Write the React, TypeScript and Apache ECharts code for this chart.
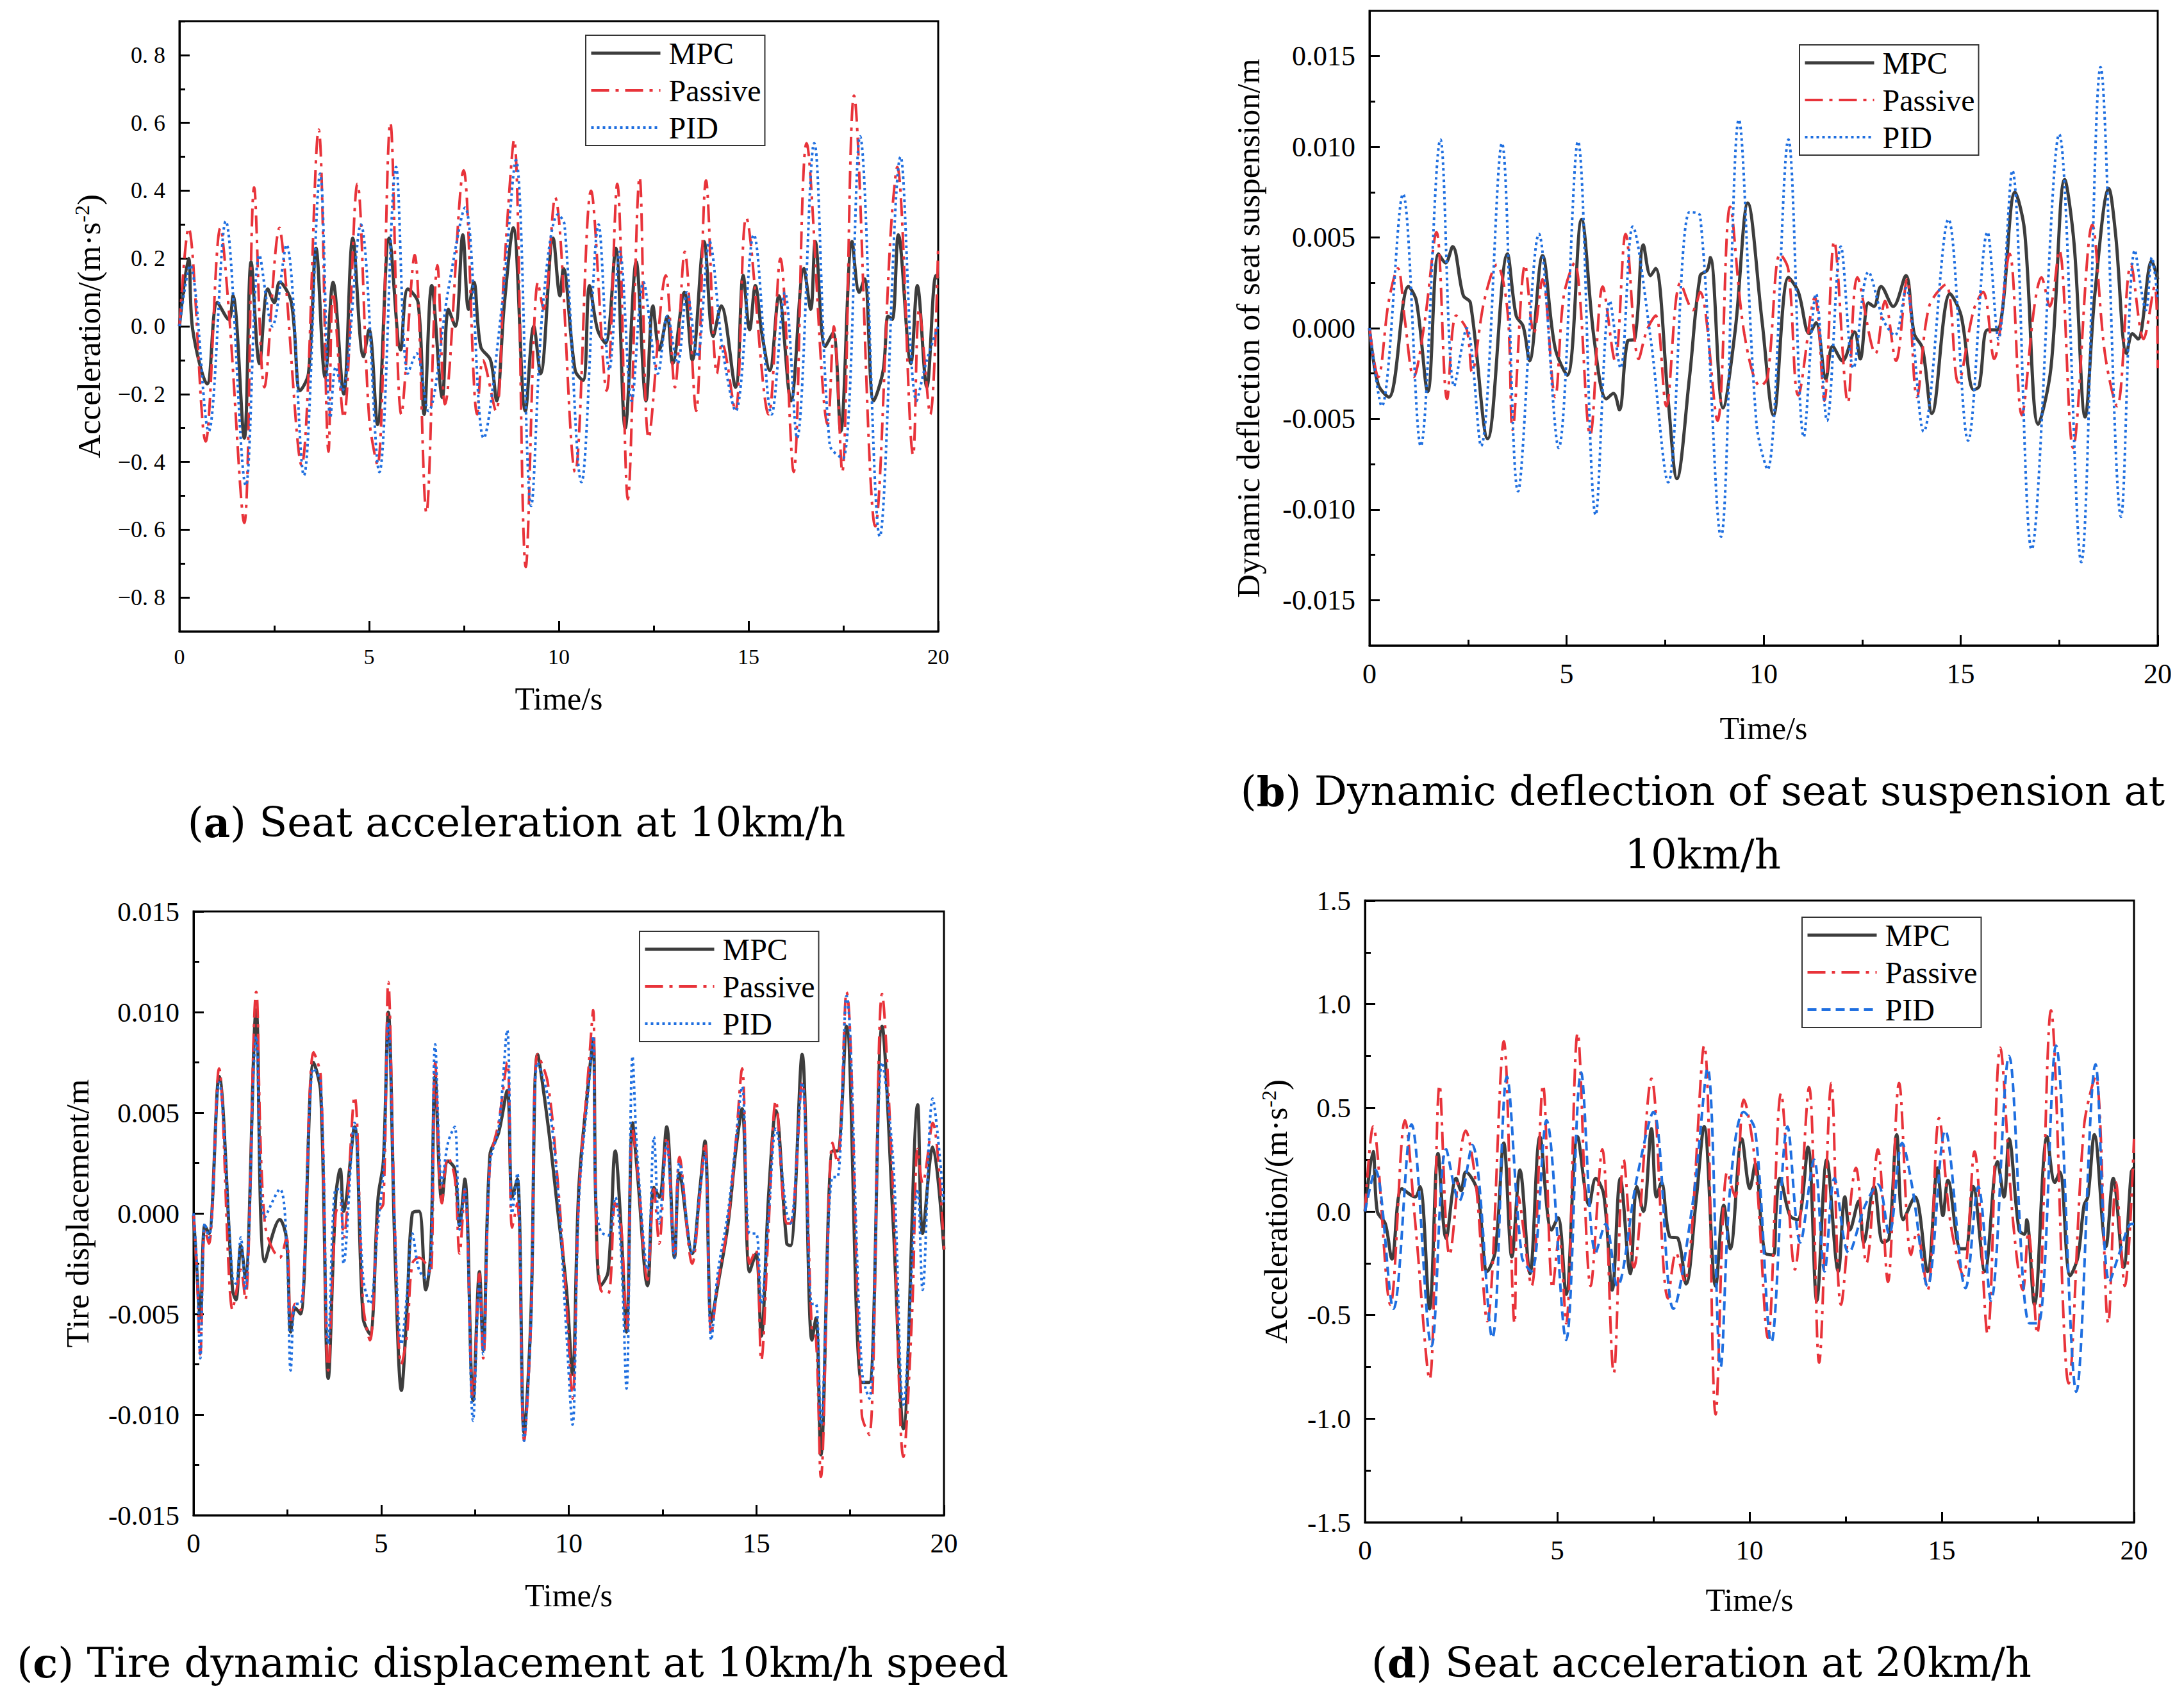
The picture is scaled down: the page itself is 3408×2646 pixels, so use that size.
import { useEffect, useRef } from "react";
import * as echarts from "echarts";

const FONT = "Liberation Serif";
const CAP_FONT = "DejaVu Serif";
const C_MPC = "#3d3d3d";
const C_PAS = "#e8333a";
const C_PID = "#1f6fe0";

type Pt = [number, number];

// (a) seat acceleration at 10km/h
const aMpc: Pt[] = [[0,0],[0.24,0.2],[0.35,-0.01],[0.73,-0.17],[1.0,0.07],[1.3,0.02],[1.41,0.09],[1.71,-0.33],[1.89,0.19],[2.11,-0.11],[2.33,0.11],[2.5,0.07],[2.64,0.13],[2.95,0.07],[3.18,-0.19],[3.4,-0.14],[3.6,0.23],[3.84,-0.15],[4.05,0.13],[4.33,-0.2],[4.57,0.26],[4.85,-0.09],[5.0,-0.01],[5.22,-0.29],[5.53,0.26],[5.83,-0.07],[6.02,0.11],[6.29,0.07],[6.45,-0.26],[6.65,0.12],[6.93,-0.21],[7.09,0.05],[7.27,0.0],[7.47,0.27],[7.62,0.05],[7.76,0.13],[7.94,-0.06],[8.2,-0.1],[8.36,-0.22],[8.56,0.06],[8.8,0.29],[9.12,-0.25],[9.34,0.0],[9.52,-0.14],[9.85,0.26],[10.03,0.09],[10.12,0.17],[10.43,-0.13],[10.64,-0.16],[10.81,0.12],[11.02,-0.01],[11.23,-0.05],[11.5,0.23],[11.75,-0.3],[12.04,0.19],[12.3,-0.22],[12.48,0.06],[12.65,-0.07],[12.86,0.03],[13.0,-0.11],[13.31,0.1],[13.52,-0.1],[13.83,0.25],[14.07,-0.03],[14.28,0.06],[14.66,-0.18],[14.86,0.15],[15.03,-0.01],[15.18,0.12],[15.35,-0.02],[15.56,-0.13],[15.8,0.09],[16.12,-0.22],[16.46,0.17],[16.64,0.05],[16.76,0.25],[17.02,-0.06],[17.23,-0.02],[17.43,-0.31],[17.73,0.25],[17.92,0.1],[18.06,0.14],[18.3,-0.22],[18.55,-0.13],[18.68,0.03],[18.79,0.02],[18.95,0.27],[19.28,-0.11],[19.45,0.12],[19.7,-0.18],[19.94,0.15],[20,0.14]];
const aPassive: Pt[] = [[0,0],[0.24,0.29],[0.69,-0.34],[1.08,0.29],[1.3,0.05],[1.71,-0.58],[1.97,0.41],[2.24,-0.18],[2.64,0.29],[2.75,0.2],[3.22,-0.41],[3.67,0.58],[3.93,-0.37],[4.05,0.1],[4.33,-0.27],[4.69,0.42],[5.0,-0.27],[5.22,-0.41],[5.56,0.6],[5.85,-0.26],[6.2,0.21],[6.51,-0.55],[6.8,0.18],[7.0,-0.23],[7.49,0.46],[7.85,-0.26],[8.0,-0.1],[8.34,-0.25],[8.56,0.17],[8.82,0.55],[9.13,-0.71],[9.45,0.13],[9.6,0.05],[9.9,0.38],[10.43,-0.43],[10.85,0.4],[11.26,-0.19],[11.54,0.42],[11.82,-0.51],[12.13,0.44],[12.37,-0.33],[12.82,0.15],[13.06,-0.18],[13.32,0.22],[13.62,-0.25],[13.88,0.43],[14.17,-0.14],[14.3,-0.05],[14.65,-0.25],[14.94,0.32],[15.53,-0.26],[15.84,0.2],[16.19,-0.43],[16.53,0.54],[17.09,-0.29],[17.25,0.0],[17.47,-0.43],[17.78,0.68],[18.34,-0.59],[18.75,0.28],[18.92,0.47],[19.34,-0.38],[19.5,0.05],[19.79,-0.26],[20,0.24]];
const aPid: Pt[] = [[0,0],[0.28,0.18],[0.77,-0.31],[1.22,0.31],[1.75,-0.47],[2.11,0.21],[2.45,0.0],[2.82,0.24],[3.28,-0.44],[3.71,0.45],[3.98,-0.27],[4.12,-0.12],[4.29,-0.19],[4.78,0.3],[5.27,-0.43],[5.71,0.47],[6.02,-0.14],[6.25,-0.08],[6.56,-0.25],[7.09,0.11],[7.53,0.35],[8.02,-0.33],[8.5,0.06],[8.87,0.49],[9.27,-0.53],[9.58,0.06],[9.98,0.33],[10.15,0.3],[10.6,-0.46],[11.05,0.3],[11.33,-0.13],[11.61,0.22],[11.92,-0.22],[12.23,0.13],[12.61,-0.14],[12.86,0.03],[13.13,-0.11],[13.38,0.1],[13.65,-0.09],[13.97,0.25],[14.32,-0.07],[14.66,-0.25],[15.14,0.27],[15.61,-0.26],[15.96,0.1],[16.28,-0.33],[16.73,0.54],[17.14,-0.35],[17.49,-0.39],[17.94,0.56],[18.46,-0.62],[19.01,0.5],[19.43,-0.22],[19.7,-0.1],[20,0.0]];

// (b) dynamic deflection of seat suspension at 10km/h
const bMpc: Pt[] = [[0,0],[0.22,-0.0031],[0.49,-0.0038],[0.99,0.0023],[1.19,0.0015],[1.48,-0.0035],[1.75,0.0041],[1.93,0.0036],[2.11,0.0045],[2.38,0.0018],[2.56,0.0014],[3.0,-0.0061],[3.5,0.0041],[3.72,0.0007],[3.9,0.0001],[4.06,-0.0018],[4.39,0.004],[4.71,-0.0011],[5.02,-0.0026],[5.38,0.006],[5.7,-0.0006],[6.01,-0.0039],[6.19,-0.0036],[6.34,-0.0045],[6.55,-0.0007],[6.73,-0.0006],[6.95,0.0046],[7.13,0.0029],[7.26,0.0033],[7.58,-0.004],[7.8,-0.0083],[8.12,-0.0027],[8.39,0.0029],[8.57,0.0032],[8.65,0.0039],[8.97,-0.0044],[9.28,-0.0001],[9.6,0.0069],[9.96,0.0004],[10.25,-0.0048],[10.63,0.0028],[10.88,0.002],[11.16,-0.0003],[11.33,0.0003],[11.58,-0.0028],[11.75,-0.001],[12.0,-0.0018],[12.31,-0.0002],[12.45,-0.0017],[12.66,0.0014],[12.8,0.0012],[12.98,0.0023],[13.29,0.0012],[13.61,0.0029],[13.82,-0.0003],[14.03,-0.0011],[14.27,-0.0047],[14.73,0.0019],[15.01,0.0007],[15.33,-0.0034],[15.47,-0.0032],[15.68,-0.0001],[15.92,-0.0001],[16.06,0.001],[16.38,0.0075],[16.62,0.0054],[16.97,-0.0053],[17.29,-0.0022],[17.64,0.0082],[17.88,0.0046],[18.16,-0.0049],[18.41,0.002],[18.76,0.0077],[18.93,0.0052],[19.21,-0.0014],[19.36,-0.0003],[19.5,-0.0006],[19.85,0.0037],[20,0.0027]];
const bPassive: Pt[] = [[0,0],[0.22,-0.0027],[0.49,0.0015],[0.72,0.0033],[0.9,0.0004],[1.12,-0.0027],[1.39,0.0002],[1.7,0.0053],[1.97,-0.0039],[2.2,0.0007],[2.47,-0.0001],[2.6,-0.0024],[2.91,0.0015],[3.23,0.0035],[3.5,0.001],[3.63,-0.0056],[3.95,0.0035],[4.17,-0.0003],[4.39,0.0027],[4.71,-0.0038],[4.93,0.0018],[5.2,0.0036],[5.6,-0.0059],[5.92,0.0023],[6.23,-0.0018],[6.5,0.0052],[6.83,-0.0017],[7.04,-0.0001],[7.26,0.0007],[7.53,-0.0043],[7.89,0.0025],[8.21,0.001],[8.39,0.002],[8.83,-0.0051],[9.15,0.0067],[9.51,-0.0003],[9.92,-0.0032],[10.1,-0.0027],[10.42,0.0041],[10.63,0.0032],[10.88,-0.0037],[11.3,0.0017],[11.54,-0.004],[11.79,0.0048],[12.14,-0.0041],[12.38,0.0028],[12.84,-0.0014],[13.08,0.0015],[13.36,-0.0018],[13.64,0.0027],[13.89,-0.0038],[14.2,0.0012],[14.62,0.0024],[14.94,-0.003],[15.33,0.001],[15.57,0.002],[15.85,-0.0017],[16.24,0.0041],[16.55,-0.0048],[16.87,0.0012],[17.05,0.0028],[17.26,0.0012],[17.5,0.0043],[17.85,-0.0066],[18.34,0.0057],[18.66,-0.0014],[18.97,-0.0043],[19.32,0.0035],[19.64,-0.0006],[19.92,0.0023],[20,-0.0022]];
const bPid: Pt[] = [[0,0],[0.31,-0.0043],[0.85,0.0074],[1.3,-0.0065],[1.8,0.0104],[2.15,-0.0032],[2.47,0.0],[2.83,-0.0065],[3.36,0.0102],[3.77,-0.009],[4.3,0.0052],[4.8,-0.0066],[5.29,0.0103],[5.74,-0.0103],[6.1,0.0015],[6.37,-0.0022],[6.68,0.0056],[7.13,-0.0005],[7.58,-0.0085],[8.12,0.0064],[8.39,0.0062],[8.92,-0.0115],[9.37,0.0115],[9.82,-0.0053],[10.1,-0.0078],[10.63,0.0104],[11.02,-0.006],[11.33,0.0019],[11.61,-0.0051],[11.96,0.0045],[12.28,-0.0022],[12.66,0.0031],[13.05,0.0004],[13.33,-0.0004],[13.61,0.0022],[14.06,-0.0057],[14.69,0.006],[15.19,-0.0062],[15.68,0.0053],[15.96,-0.0006],[16.31,0.0087],[16.8,-0.0122],[17.5,0.0107],[18.06,-0.0129],[18.55,0.0144],[19.07,-0.0104],[19.42,0.0043],[19.7,0.001],[19.85,0.0039],[20,0.0016]];

// (c) tire dynamic displacement at 10km/h
const cMpc: Pt[] = [[0,-0.0001],[0.09,-0.0029],[0.18,-0.0052],[0.3,-0.0006],[0.41,-0.001],[0.68,0.0068],[1.04,-0.0038],[1.13,-0.0043],[1.26,-0.0016],[1.38,-0.0032],[1.67,0.0101],[1.9,-0.0024],[2.3,-0.0003],[2.48,-0.0013],[2.59,-0.0059],[2.71,-0.0047],[2.85,-0.005],[3.2,0.0075],[3.39,0.006],[3.59,-0.0082],[3.79,0.0008],[3.91,0.0022],[4.0,0.0001],[4.29,0.0043],[4.52,-0.0052],[4.7,-0.006],[4.92,0.0008],[5.06,0.0026],[5.19,0.01],[5.37,-0.002],[5.54,-0.0088],[5.69,-0.0047],[5.83,0.0],[6.01,0.0001],[6.19,-0.0038],[6.32,-0.002],[6.44,0.0068],[6.62,0.0006],[6.78,0.0026],[6.96,0.0022],[7.09,-0.0006],[7.23,0.0017],[7.45,-0.0093],[7.62,-0.0029],[7.72,-0.0068],[7.9,0.0029],[8.13,0.004],[8.36,0.0061],[8.49,0.0008],[8.63,0.0017],[8.81,-0.0109],[8.99,-0.0052],[9.17,0.0079],[9.44,0.0045],[9.71,0.0001],[9.94,-0.0038],[10.1,-0.008],[10.27,0.0013],[10.54,0.0068],[10.65,0.0086],[10.72,0.0006],[10.85,-0.0036],[11.05,-0.0029],[11.24,0.0031],[11.39,-0.0006],[11.54,-0.0059],[11.7,0.0045],[11.83,0.002],[12.1,-0.0036],[12.27,0.0013],[12.41,0.0008],[12.61,0.0043],[12.82,-0.0022],[12.95,0.002],[13.29,-0.002],[13.5,0.0013],[13.63,0.0036],[13.8,-0.0054],[13.97,-0.0036],[14.24,-0.0006],[14.45,0.0031],[14.62,0.0052],[14.82,-0.0029],[14.99,-0.002],[15.13,-0.0061],[15.33,0.001],[15.52,0.0051],[15.81,-0.0015],[15.91,-0.0016],[16.22,0.0079],[16.48,-0.0063],[16.59,-0.0052],[16.72,-0.012],[17.03,0.0031],[17.16,0.0031],[17.4,0.0093],[17.81,-0.0084],[18.01,-0.0084],[18.35,0.0093],[18.65,-0.0006],[18.92,-0.0107],[19.3,0.0054],[19.43,-0.001],[19.7,0.0033],[20,-0.0018]];
const cPassive: Pt[] = [[0,0],[0.09,-0.003],[0.18,-0.007],[0.3,-0.0008],[0.41,-0.0015],[0.68,0.0072],[1.04,-0.0048],[1.13,-0.004],[1.26,-0.0028],[1.38,-0.0043],[1.67,0.011],[1.9,-0.0005],[2.3,-0.0022],[2.48,-0.0012],[2.59,-0.0055],[2.71,-0.0045],[2.85,-0.0048],[3.2,0.008],[3.39,0.0068],[3.59,-0.0078],[3.79,0.0],[3.91,0.0005],[4.0,-0.0012],[4.29,0.0058],[4.52,-0.0045],[4.7,-0.0063],[4.92,0.0],[5.06,0.0005],[5.19,0.0115],[5.37,-0.001],[5.54,-0.0075],[5.69,-0.006],[5.83,-0.0025],[6.01,-0.0022],[6.19,-0.0025],[6.32,-0.003],[6.44,0.0075],[6.62,0.0005],[6.78,0.0028],[6.96,0.0018],[7.09,-0.002],[7.23,0.0012],[7.45,-0.0092],[7.62,-0.003],[7.72,-0.0072],[7.9,0.0025],[8.13,0.0045],[8.36,0.0075],[8.49,-0.0007],[8.63,0.0005],[8.81,-0.0113],[8.99,-0.0055],[9.17,0.0079],[9.44,0.0065],[9.71,0.0015],[9.94,-0.0045],[10.1,-0.0092],[10.27,0.0008],[10.54,0.0075],[10.65,0.0101],[10.72,0.0005],[10.85,-0.0038],[11.05,-0.004],[11.24,0.0005],[11.39,-0.0005],[11.54,-0.0057],[11.7,0.0042],[11.83,0.0022],[12.1,-0.0033],[12.27,0.0012],[12.41,-0.0015],[12.61,0.0038],[12.82,-0.002],[12.95,0.0028],[13.29,-0.0025],[13.5,0.001],[13.63,0.0035],[13.8,-0.006],[13.97,-0.0035],[14.24,-0.0005],[14.45,0.0035],[14.62,0.0072],[14.82,-0.0025],[14.99,-0.0018],[15.13,-0.0073],[15.33,-0.0005],[15.52,0.0056],[15.81,-0.0005],[15.91,-0.0005],[16.22,0.0065],[16.48,-0.0058],[16.59,-0.0062],[16.72,-0.0131],[17.03,0.0035],[17.16,0.0025],[17.4,0.011],[17.81,-0.01],[18.01,-0.011],[18.35,0.0109],[18.65,0.0008],[18.92,-0.0121],[19.15,-0.005],[19.3,0.0032],[19.43,0.0015],[19.7,0.0045],[20,-0.0018]];
const cPid: Pt[] = [[0,0],[0.09,-0.0025],[0.18,-0.0072],[0.3,-0.0005],[0.41,-0.0012],[0.68,0.0065],[1.04,-0.0032],[1.13,-0.0035],[1.26,-0.0012],[1.38,-0.0038],[1.67,0.0088],[1.9,-0.0002],[2.3,0.0012],[2.48,-0.0015],[2.59,-0.0078],[2.71,-0.0045],[2.85,-0.0045],[3.2,0.0072],[3.39,0.0065],[3.59,-0.0065],[3.79,0.0012],[3.91,0.0012],[4.0,-0.0025],[4.29,0.0045],[4.52,-0.0032],[4.7,-0.0045],[4.92,-0.0005],[5.06,0.0022],[5.19,0.0095],[5.37,-0.001],[5.54,-0.0065],[5.69,-0.004],[5.83,-0.001],[6.01,-0.0028],[6.19,-0.0032],[6.32,-0.0025],[6.44,0.0084],[6.62,0.0015],[6.78,0.0035],[6.96,0.0043],[7.09,-0.0008],[7.23,0.0012],[7.45,-0.0103],[7.62,-0.0035],[7.72,-0.007],[7.9,0.0025],[8.13,0.0042],[8.36,0.0091],[8.49,0.0],[8.63,0.002],[8.81,-0.0113],[8.99,-0.0055],[9.17,0.0075],[9.44,0.0058],[9.71,0.0012],[9.94,-0.006],[10.1,-0.0105],[10.27,0.0006],[10.54,0.0065],[10.65,0.0088],[10.72,0.0008],[10.85,-0.0009],[11.05,-0.0011],[11.24,0.0008],[11.39,-0.0018],[11.54,-0.0087],[11.7,0.0078],[11.83,0.0028],[12.1,-0.0028],[12.27,0.0038],[12.41,-0.0005],[12.61,0.0035],[12.82,-0.0022],[12.95,0.0025],[13.29,-0.002],[13.5,0.0012],[13.63,0.003],[13.8,-0.0063],[13.97,-0.003],[14.24,0.0],[14.45,0.0035],[14.62,0.0063],[14.82,-0.001],[14.99,-0.001],[15.13,-0.0045],[15.33,0.0],[15.52,0.0042],[15.81,0.0],[15.91,-0.0005],[16.22,0.0065],[16.48,-0.0045],[16.59,-0.0045],[16.72,-0.0105],[17.03,0.0018],[17.16,0.0018],[17.4,0.0108],[17.81,-0.0078],[18.01,-0.0092],[18.35,0.0075],[18.65,0.0025],[18.92,-0.0095],[19.3,0.0012],[19.43,-0.0038],[19.7,0.0057],[20,0.0004]];

// (d) seat acceleration at 20km/h
const dMpc: Pt[] = [[0,0],[0.21,0.29],[0.32,0.0],[0.53,-0.06],[0.7,-0.23],[0.96,0.11],[1.3,0.07],[1.43,0.12],[1.68,-0.47],[1.9,0.28],[2.11,-0.13],[2.37,0.16],[2.5,0.1],[2.62,0.19],[2.92,0.1],[3.18,-0.29],[3.39,-0.19],[3.61,0.33],[3.82,-0.22],[4.03,0.2],[4.29,-0.3],[4.55,0.36],[4.85,-0.09],[5.02,-0.03],[5.23,-0.4],[5.53,0.36],[5.83,0.03],[6.0,0.16],[6.21,0.08],[6.43,-0.38],[6.64,0.16],[6.9,-0.3],[7.07,0.12],[7.24,0.0],[7.45,0.4],[7.58,0.07],[7.71,0.14],[7.92,-0.12],[8.14,-0.13],[8.35,-0.35],[8.61,0.05],[8.82,0.41],[9.12,-0.36],[9.33,0.03],[9.5,-0.18],[9.8,0.35],[10.01,0.11],[10.15,0.23],[10.4,-0.2],[10.62,-0.21],[10.69,0.0],[10.79,0.16],[11.05,-0.02],[11.25,-0.04],[11.52,0.31],[11.75,-0.43],[12.01,0.25],[12.31,-0.29],[12.48,0.07],[12.61,-0.09],[12.84,0.05],[12.97,-0.15],[13.24,0.12],[13.47,-0.15],[13.63,-0.13],[13.83,0.37],[14.0,-0.04],[14.3,0.07],[14.63,-0.29],[14.89,0.21],[15.03,-0.02],[15.16,0.15],[15.49,-0.18],[15.62,-0.18],[15.82,0.12],[16.12,-0.29],[16.45,0.24],[16.62,0.07],[16.75,0.35],[17.01,-0.09],[17.15,-0.11],[17.21,-0.04],[17.41,-0.45],[17.74,0.36],[17.94,0.14],[18.07,0.19],[18.34,-0.31],[18.54,-0.22],[18.7,0.03],[18.8,0.07],[18.97,0.37],[19.27,-0.17],[19.46,0.16],[19.73,-0.27],[19.93,0.19],[20,0.21]];
const dPassive: Pt[] = [[0,0],[0.21,0.41],[0.66,-0.45],[1.04,0.44],[1.3,-0.04],[1.68,-0.81],[1.94,0.61],[2.2,-0.21],[2.62,0.39],[2.88,0.14],[3.18,-0.53],[3.61,0.82],[3.89,-0.54],[3.99,0.07],[4.33,-0.36],[4.63,0.61],[4.88,-0.37],[5.05,-0.12],[5.23,-0.54],[5.53,0.86],[5.87,-0.36],[6.17,0.3],[6.47,-0.78],[6.73,0.25],[6.99,-0.27],[7.45,0.64],[7.88,-0.42],[8.09,-0.2],[8.31,-0.34],[8.82,0.8],[9.12,-0.98],[9.42,0.19],[9.63,0.07],[9.85,0.54],[10.15,0.23],[10.48,-0.61],[10.82,0.57],[11.18,-0.28],[11.55,0.6],[11.81,-0.73],[12.13,0.62],[12.38,-0.45],[12.77,0.21],[13.04,-0.25],[13.34,0.3],[13.6,-0.34],[13.89,0.62],[14.2,-0.21],[14.35,-0.1],[14.63,-0.38],[14.93,0.45],[15.23,-0.06],[15.56,-0.31],[15.85,0.29],[16.19,-0.59],[16.52,0.79],[16.85,-0.04],[17.11,-0.38],[17.25,-0.1],[17.48,-0.59],[17.84,0.97],[18.3,-0.83],[18.7,0.41],[19.0,0.65],[19.33,-0.54],[19.53,0.14],[19.76,-0.36],[20,0.35]];
const dPid: Pt[] = [[0,0],[0.27,0.2],[0.74,-0.47],[1.21,0.42],[1.73,-0.65],[2.11,0.3],[2.45,0.05],[2.79,0.32],[3.31,-0.61],[3.69,0.65],[4.08,-0.22],[4.33,-0.29],[4.72,0.44],[5.23,-0.62],[5.62,0.67],[6.0,-0.2],[6.26,-0.06],[6.56,-0.36],[7.07,0.16],[7.5,0.48],[8.02,-0.47],[8.53,0.05],[8.91,0.69],[9.25,-0.75],[9.5,0.12],[9.85,0.48],[10.15,0.39],[10.57,-0.63],[10.99,0.41],[11.32,-0.15],[11.68,0.25],[11.95,-0.29],[12.21,0.16],[12.58,-0.2],[13.01,0.03],[13.34,0.13],[13.63,-0.11],[13.97,0.33],[14.23,0.12],[14.63,-0.36],[15.09,0.39],[15.62,-0.37],[15.95,0.12],[16.28,-0.43],[16.75,0.75],[17.28,-0.54],[17.51,-0.54],[17.97,0.8],[18.5,-0.87],[19.0,0.71],[19.36,-0.34],[19.66,-0.18],[19.93,-0.06],[20,-0.06]];

const legendNames = ["MPC", "Passive", "PID"];
const aTicks = [-0.8, -0.6, -0.4, -0.2, 0, 0.2, 0.4, 0.6, 0.8];
const aMinor = [-0.9, -0.7, -0.5, -0.3, -0.1, 0.1, 0.3, 0.5, 0.7, 0.9];
const bTicks = [-0.015, -0.01, -0.005, 0, 0.005, 0.01, 0.015];
const bMinor = [-0.0125, -0.0075, -0.0025, 0.0025, 0.0075, 0.0125];

const accName = "{t|Acceleration/(m·s}{s|-2}{t|)}";

const panels = [
  {
    grid: { left: 280, top: 33, width: 1184, height: 952 },
    yMin: -0.9, yMax: 0.9, ticks: aTicks, minor: aMinor,
    fmt: (v: number) => (v < -1e-9 ? "−" : "") + Math.abs(v).toFixed(1).replace(".", ". "),
    yName: accName, yNameGap: 114, yLabelSize: 36, xLabelSize: 34, xNameGap: 80,
    legend: { left: 914, top: 55 }, data: [aMpc, aPassive, aPid], pidDash: [4, 5],
  },
  {
    grid: { left: 2137, top: 17, width: 1230, height: 990 },
    yMin: -0.0175, yMax: 0.0175, ticks: bTicks, minor: bMinor,
    fmt: (v: number) => v.toFixed(3),
    yName: "Dynamic deflection of seat suspension/m", yNameGap: 164, yLabelSize: 44, xLabelSize: 44, xNameGap: 104,
    legend: { left: 2808, top: 70 }, data: [bMpc, bPassive, bPid], pidDash: [4, 5],
  },
  {
    grid: { left: 302, top: 1422, width: 1171, height: 942 },
    yMin: -0.015, yMax: 0.015, interval: 0.005,
    fmt: (v: number) => v.toFixed(3),
    yName: "Tire displacement/m", yNameGap: 156, yLabelSize: 43, xLabelSize: 43, xNameGap: 100,
    legend: { left: 998, top: 1453 }, data: [cMpc, cPassive, cPid], pidDash: [4, 5],
  },
  {
    grid: { left: 2130, top: 1405, width: 1200, height: 970 },
    yMin: -1.5, yMax: 1.5, interval: 0.5,
    fmt: (v: number) => v.toFixed(1),
    yName: accName, yNameGap: 112, yLabelSize: 43, xLabelSize: 43, xNameGap: 96,
    legend: { left: 2812, top: 1431 }, data: [dMpc, dPassive, dPid], pidDash: [14, 8],
  },
];

const captions = [
  { x: 806, y: 1283, text: "({b|a}) Seat acceleration at 10km/h" },
  { x: 2657, y: 1234, text: "({b|b}) Dynamic deflection of seat suspension at" },
  { x: 2657, y: 1333, text: "10km/h" },
  { x: 800, y: 2594, text: "({b|c}) Tire dynamic displacement at 10km/h speed" },
  { x: 2655, y: 2594, text: "({b|d}) Seat acceleration at 20km/h" },
];

const black = { color: "#000", width: 3 };

export default function App() {
  const ref = useRef<HTMLDivElement | null>(null);

  useEffect(() => {
    if (!ref.current) return;
    const chart = echarts.init(ref.current, undefined, { renderer: "svg" });

    const grid: any[] = [];
    const xAxis: any[] = [];
    const yAxis: any[] = [];
    const series: any[] = [];
    const legend: any[] = [];

    panels.forEach((p: any, i) => {
      grid.push({ ...p.grid, show: true, borderColor: "#000", borderWidth: 3, backgroundColor: "transparent" });
      xAxis.push({
        gridIndex: i, type: "value", min: 0, max: 20, interval: 5,
        name: "Time/s", nameLocation: "middle", nameGap: p.xNameGap,
        nameTextStyle: { fontFamily: FONT, fontSize: 50, color: "#000" },
        axisLine: { onZero: false, lineStyle: black },
        axisTick: { inside: true, length: 16, lineStyle: black },
        minorTick: { show: true, splitNumber: 2, length: 9, lineStyle: black },
        axisLabel: { fontFamily: FONT, fontSize: p.xLabelSize, color: "#000", margin: 22, showMaxLabel: true, showMinLabel: true },
        splitLine: { show: false },
      });
      const yIdx = yAxis.length;
      const mainY: any = {
        gridIndex: i, type: "value", min: p.yMin, max: p.yMax, position: "left",
        name: p.yName, nameLocation: "middle", nameGap: p.yNameGap,
        nameTextStyle: {
          fontFamily: FONT, fontSize: 51, color: "#000",
          rich: {
            t: { fontFamily: FONT, fontSize: 51, color: "#000", lineHeight: 54 },
            s: { fontFamily: FONT, fontSize: 32, color: "#000", lineHeight: 54, verticalAlign: "top" },
          },
        },
        axisLine: { onZero: false, lineStyle: black },
        axisTick: { inside: true, length: 16, lineStyle: black },
        axisLabel: { fontFamily: FONT, fontSize: p.yLabelSize, color: "#000", margin: 22, formatter: p.fmt },
        splitLine: { show: false },
      };
      if (p.interval) {
        mainY.interval = p.interval;
        mainY.minorTick = { show: true, splitNumber: 2, length: 9, lineStyle: black };
      } else {
        mainY.axisTick.customValues = p.ticks;
        mainY.axisLabel.customValues = p.ticks;
      }
      yAxis.push(mainY);
      if (!p.interval) {
        // second axis only for the short in-between ticks
        yAxis.push({
          gridIndex: i, type: "value", min: p.yMin, max: p.yMax, position: "left", offset: 0,
          axisLine: { show: false, onZero: false },
          axisLabel: { show: false },
          axisTick: { inside: true, length: 9, lineStyle: black, customValues: p.minor },
          splitLine: { show: false },
        });
      }
      const styles = [
        { color: C_MPC, width: 5, type: "solid" },
        { color: C_PAS, width: 4, type: [28, 10, 5, 10] },
        { color: C_PID, width: 4, type: p.pidDash },
      ];
      p.data.forEach((d: Pt[], k: number) => {
        series.push({
          type: "line", name: legendNames[k], xAxisIndex: i, yAxisIndex: yIdx,
          data: d, smooth: 0.35, symbol: "none", showSymbol: false,
          lineStyle: styles[k], color: styles[k].color,
        });
      });
      legend.push({
        orient: "vertical", left: p.legend.left, top: p.legend.top,
        data: legendNames.map((n, k) => ({ name: n, lineStyle: styles[k] })),
        itemWidth: 108, itemHeight: 14, itemGap: 10,
        itemStyle: { opacity: 0 },
        backgroundColor: "#fff", borderColor: "#333", borderWidth: 2, borderRadius: 0,
        padding: [4, 6, 4, 6], selectedMode: false,
        textStyle: { fontFamily: FONT, fontSize: 48, color: "#000", padding: [0, 0, 0, 8] },
      });
    });

    const graphic = captions.map((c) => ({
      type: "text", x: c.x, y: c.y,
      style: {
        text: c.text, fontFamily: CAP_FONT, fontSize: 64, fill: "#000",
        align: "center", verticalAlign: "middle",
        rich: { b: { fontFamily: CAP_FONT, fontSize: 64, fontWeight: "bold", fill: "#000" } },
      },
    }));

    chart.setOption({
      animation: false,
      backgroundColor: "#fff",
      grid, xAxis, yAxis, series, legend, graphic,
    });

    return () => chart.dispose();
  }, []);

  return <div ref={ref} style={{ position: "fixed", left: 0, top: 0, width: 3408, height: 2646 }} />;
}
